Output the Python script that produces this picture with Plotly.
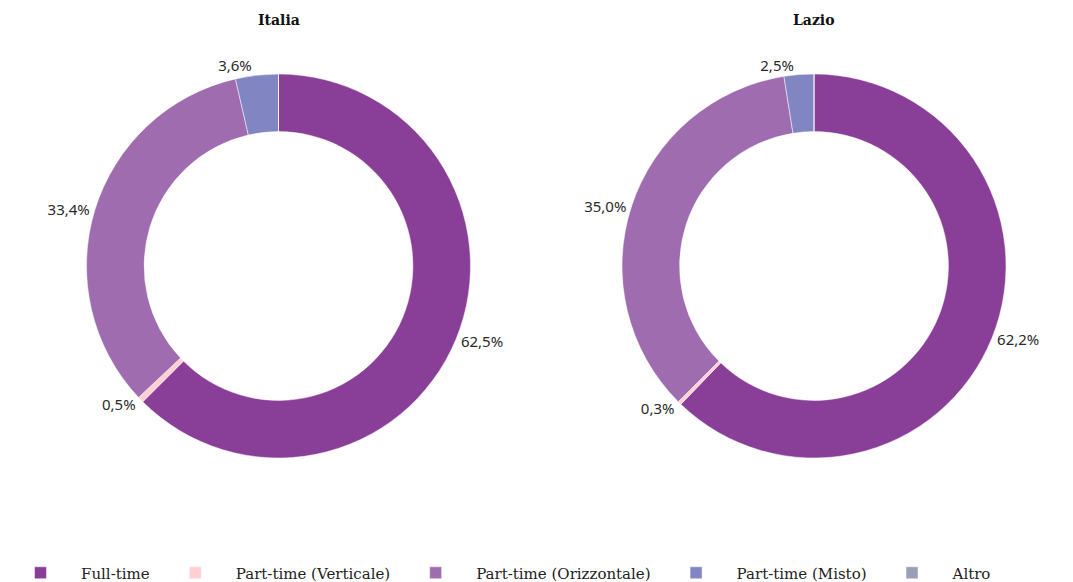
import plotly.graph_objects as go

categories = ["Full-time", "Part-time (Verticale)", "Part-time (Orizzontale)", "Part-time (Misto)", "Altro"]
italia_values = [62.5, 0.5, 33.4, 3.6, 0.0]
lazio_values = [62.2, 0.3, 35.0, 2.5, 0.0]
panel_titles = ["Italia", "Lazio"]
colors = ["#893e97", "#ffcfd2", "#9e6caf", "#8185c1", "#9a9fb8"]

W, H = 1073, 582
MT, MB = 74, 124
PH = H - MT - MB
R = 192
centers = [278.5, 814]


def fmt(v):
    return (f"{v:.1f}%").replace(".", ",") if v > 0 else ""


fig = go.Figure()
for i, (name, vals) in enumerate(zip(panel_titles, [italia_values, lazio_values])):
    cx = centers[i]
    fig.add_trace(go.Pie(
        labels=categories,
        values=vals,
        text=[fmt(v) for v in vals],
        textinfo="text",
        textposition="outside",
        hole=0.70,
        sort=False,
        direction="clockwise",
        rotation=0,
        marker=dict(colors=colors, line=dict(color="white", width=0.5)),
        textfont=dict(family="Noto Sans", size=15, color="#2a2a2a"),
        domain=dict(x=[(cx - R) / W, (cx + R) / W], y=[0, 1]),
        showlegend=(i == 0),
        name=name,
        hoverinfo="label+percent",
    ))
    fig.add_annotation(
        x=cx / W, y=1 + (MT - 20) / PH, xref="paper", yref="paper",
        text=f"<b>{name}</b>", showarrow=False,
        font=dict(family="DejaVu Serif", size=14, color="#111111"),
        xanchor="center", yanchor="middle",
    )

fig.update_layout(
    width=W, height=H,
    margin=dict(l=0, r=0, t=MT, b=MB),
    paper_bgcolor="white", plot_bgcolor="white",
    separators=",.",
    legend=dict(
        orientation="h", xref="container", yref="container",
        x=-9 / W, y=(H - 573) / H,
        xanchor="left", yanchor="middle",
        font=dict(family="DejaVu Serif", size=15, color="#222222"),
        itemwidth=71, traceorder="normal",
    ),
)

fig.write_html(
    "out.html",
    config={"displayModeBar": False},
    post_script="document.body.style.margin='0';document.body.style.overflow='hidden';",
)
